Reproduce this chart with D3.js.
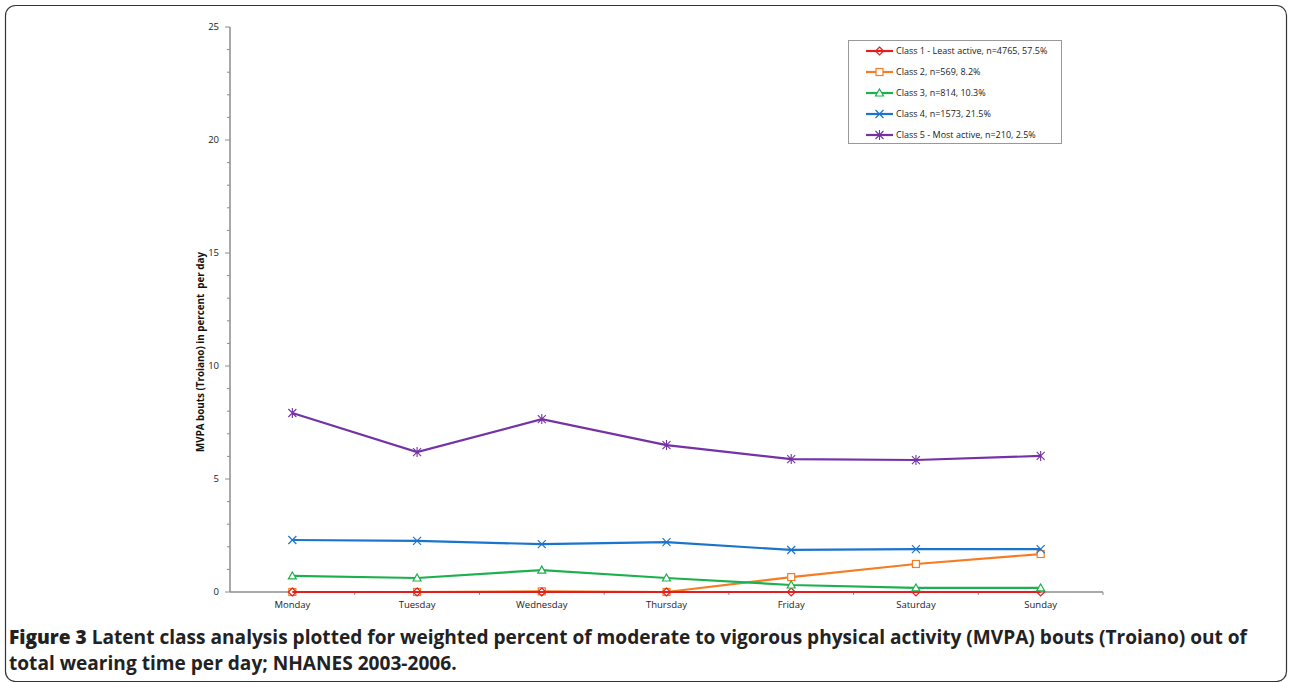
<!DOCTYPE html>
<html><head><meta charset="utf-8">
<script src="https://cdn.jsdelivr.net/npm/d3@7"></script>
<style>body{margin:0;background:#fff;}svg{display:block;}</style>
</head><body>
<svg id="c" width="1289" height="682"></svg>
<script>
const days = ["Monday","Tuesday","Wednesday","Thursday","Friday","Saturday","Sunday"];
const class1 = [0,0,0,0,0,0,0];
const class2 = [0,0,0.03,0,0.66,1.24,1.68];
const class3 = [0.71,0.62,0.97,0.62,0.31,0.18,0.18];
const class4 = [2.30,2.26,2.12,2.21,1.86,1.90,1.90];
const class5 = [7.92,6.19,7.65,6.50,5.88,5.84,6.02];
const seriesNames = ["Class 1 - Least active, n=4765, 57.5%","Class 2, n=569, 8.2%","Class 3, n=814, 10.3%","Class 4, n=1573, 21.5%","Class 5 - Most active, n=210, 2.5%"];
const yTicks = [0,5,10,15,20,25];
const yTitle = "MVPA bouts (Troiano) in percent  per day";

const colors = ["#e02020","#f57c22","#1eb04e","#1b74cc","#7432a6"];
const markers = ["diamond","square","triangle","x","star"];
const series = [class1,class2,class3,class4,class5];

const svg = d3.select("#c");
svg.append("rect").attr("x",5.5).attr("y",5.5).attr("width",1281).attr("height",676).attr("rx",10)
  .attr("fill","none").attr("stroke","#333").attr("stroke-width",1.2);

const x = d3.scaleBand().domain(days).range([230,1103]);
const y = d3.scaleLinear().domain([0,25]).range([592,27]);
const axisColor = "#8c8c8c";
const tickFont = "Open Sans, sans-serif";

// y axis
const gy = svg.append("g");
gy.append("line").attr("x1",230).attr("x2",230).attr("y1",y(25)).attr("y2",y(0)).attr("stroke",axisColor).attr("stroke-width",1.5);
d3.range(0,26).forEach(v=>{
  gy.append("line").attr("x1",v%5===0?225:227).attr("x2",230).attr("y1",y(v)).attr("y2",y(v)).attr("stroke",axisColor);
});
yTicks.forEach(v=>{
  gy.append("text").attr("x",219).attr("y",y(v)).attr("dy","0.35em").attr("text-anchor","end")
    .attr("font-family",tickFont).attr("font-size",9.5).attr("fill","#222").text(v);
});
svg.append("text").attr("transform",`translate(204,352) rotate(-90)`).attr("text-anchor","middle")
  .style("white-space","pre")
  .attr("font-family",tickFont).attr("font-size",9.8).attr("font-weight","bold").attr("fill","#111").text(yTitle);

// x axis
const gx = svg.append("g");
gx.append("line").attr("x1",230).attr("x2",1103).attr("y1",y(0)).attr("y2",y(0)).attr("stroke",axisColor).attr("stroke-width",1.5);
days.forEach((d,i)=>{
  const bx = x(d);
  if(i>0) gx.append("line").attr("x1",bx).attr("x2",bx).attr("y1",y(0)).attr("y2",y(0)+3).attr("stroke",axisColor);
  gx.append("text").attr("x",bx+x.bandwidth()/2).attr("y",608).attr("text-anchor","middle")
    .attr("font-family",tickFont).attr("font-size",9.5).attr("fill","#222").text(d);
});
gx.append("line").attr("x1",1103).attr("x2",1103).attr("y1",y(0)).attr("y2",y(0)+3).attr("stroke",axisColor);

function drawMarker(g,type,cx,cy,color){
  const s=4;
  if(type==="diamond"){
    g.append("path").attr("d",`M${cx},${cy-s}L${cx+s},${cy}L${cx},${cy+s}L${cx-s},${cy}Z`).attr("fill","none").attr("stroke",color).attr("stroke-width",1.2);
  } else if(type==="square"){
    g.append("rect").attr("x",cx-3.5).attr("y",cy-3.5).attr("width",7).attr("height",7).attr("fill","#fff").attr("stroke",color).attr("stroke-width",1.2);
  } else if(type==="triangle"){
    g.append("path").attr("d",`M${cx},${cy-4}L${cx+4},${cy+3}L${cx-4},${cy+3}Z`).attr("fill","#fff").attr("stroke",color).attr("stroke-width",1.2);
  } else if(type==="x"){
    g.append("path").attr("d",`M${cx-4},${cy-4}L${cx+4},${cy+4}M${cx-4},${cy+4}L${cx+4},${cy-4}`).attr("stroke",color).attr("stroke-width",1.2);
  } else if(type==="star"){
    g.append("path").attr("d",`M${cx-4},${cy-4}L${cx+4},${cy+4}M${cx-4},${cy+4}L${cx+4},${cy-4}M${cx},${cy-5}L${cx},${cy+5}`).attr("stroke",color).attr("stroke-width",1.1);
  }
}

const line = d3.line().x((d,i)=>x(days[i])+x.bandwidth()/2).y(d=>y(d));
const order=[1,0,2,3,4];
order.forEach(k=>{
  const g = svg.append("g");
  g.append("path").datum(series[k]).attr("d",line).attr("fill","none").attr("stroke",colors[k]).attr("stroke-width",2.2);
  series[k].forEach((v,i)=>drawMarker(g,markers[k],x(days[i])+x.bandwidth()/2,y(v),colors[k]));
});

// legend
const lg = svg.append("g");
lg.append("rect").attr("x",848.5).attr("y",40.5).attr("width",213).attr("height",103).attr("fill","#fff").attr("stroke","#999");
seriesNames.forEach((n,i)=>{
  const ly = 51 + i*21;
  lg.append("line").attr("x1",866).attr("x2",893).attr("y1",ly).attr("y2",ly).attr("stroke",colors[i]).attr("stroke-width",2.2);
  drawMarker(lg,markers[i],879.5,ly,colors[i]);
  lg.append("text").attr("x",896).attr("y",ly).attr("dy","0.35em").attr("font-family",tickFont).attr("font-size",9)
    .attr("fill","#222").text(n);
});

// caption
const cap = svg.append("text").attr("font-family","Open Sans, sans-serif").attr("font-size",19.1).attr("fill","#222").attr("font-weight",700);
const l1 = cap.append("tspan").attr("x",9).attr("y",644);
l1.append("tspan").attr("font-weight",800).text("Figure 3 ");
l1.append("tspan").text("Latent class analysis plotted for weighted percent of moderate to vigorous physical activity (MVPA) bouts (Troiano) out of");
cap.append("tspan").attr("x",9).attr("y",670).text("total wearing time per day; NHANES 2003-2006.");
</script>
</body></html>
